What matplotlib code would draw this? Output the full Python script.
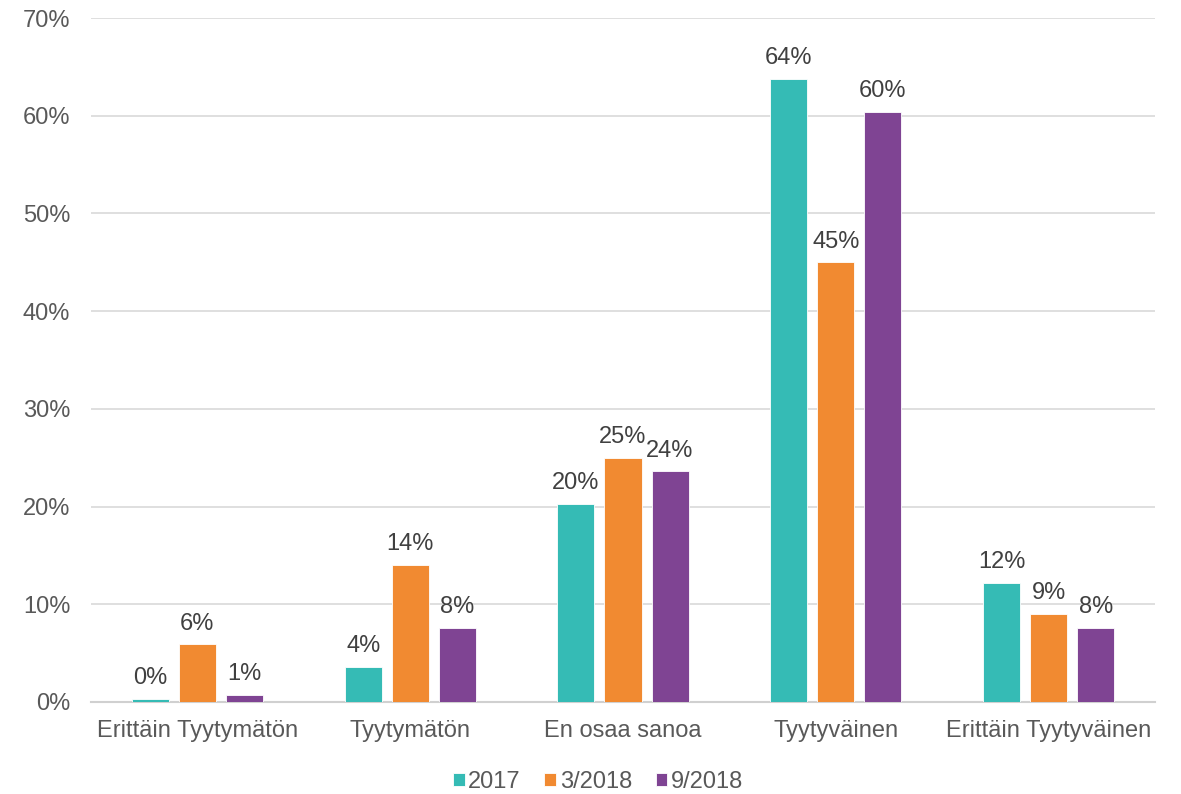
import matplotlib
matplotlib.use("Agg")
import matplotlib.pyplot as plt
import numpy as np
from matplotlib.ticker import FuncFormatter, MultipleLocator

categories = ["Erittäin Tyytymätön", "Tyytymätön", "En osaa sanoa",
              "Tyytyväinen", "Erittäin Tyytyväinen"]
series_names = ["2017", "3/2018", "9/2018"]
values_2017 = [0.3, 3.6, 20.3, 63.8, 12.2]
values_3_2018 = [5.9, 14.0, 25.0, 45.0, 9.0]
values_9_2018 = [0.7, 7.6, 23.6, 60.4, 7.6]
colors = ["#35BBB5", "#F18A31", "#7F4493"]

plt.rcParams["font.family"] = ["Liberation Sans", "DejaVu Sans"]
text_color = "#595959"
fs = 17

fig = plt.figure(figsize=(11.81, 7.94), dpi=100)
ax = fig.add_axes([91 / 1181, 1 - 702 / 794, (1155 - 91) / 1181, (702 - 18) / 794])

x = np.arange(len(categories))
bar_w = 0.174
step = 0.221
all_series = [values_2017, values_3_2018, values_9_2018]
for i, (name, vals, c) in enumerate(zip(series_names, all_series, colors)):
    pos = x + (i - 1) * step
    ax.bar(pos, vals, width=bar_w, color=c, label=name,
           edgecolor="white", linewidth=0.6, zorder=3)
    for xb, v in zip(pos, vals):
        ax.annotate(f"{round(v):.0f}%", (xb, v), xytext=(0, 7),
                    textcoords="offset points", ha="center", va="bottom",
                    fontsize=fs, color="#404040")

ax.set_xlim(-0.5, len(categories) - 0.5)
ax.set_ylim(0, 70)
ax.yaxis.set_major_locator(MultipleLocator(10))
ax.yaxis.set_major_formatter(FuncFormatter(lambda v, p: f"{v:.0f}%"))
ax.set_xticks(x)
ax.set_xticklabels(categories)
ax.tick_params(axis="both", length=0, labelsize=fs, colors=text_color)
ax.tick_params(axis="x", pad=13)
ax.tick_params(axis="y", pad=15)
ax.grid(axis="y", color="#D9D9D9", linewidth=1.2, zorder=0)
for s in ["top", "right", "left"]:
    ax.spines[s].set_visible(False)
ax.spines["bottom"].set_color("#D0D0D0")
ax.spines["bottom"].set_linewidth(1.5)

leg = fig.legend(loc="center", bbox_to_anchor=(598 / 1181, 1 - 782 / 794), ncol=3,
                 frameon=False, fontsize=fs, handlelength=0.5, handleheight=0.5,
                 handletextpad=0.15, columnspacing=1.0)
for t in leg.get_texts():
    t.set_color(text_color)

fig.savefig("out.png", dpi=100, facecolor="white")
